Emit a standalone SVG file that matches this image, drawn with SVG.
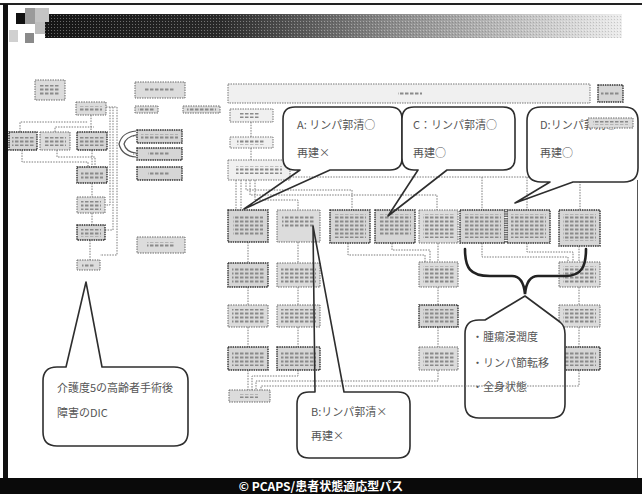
<svg xmlns="http://www.w3.org/2000/svg" width="642" height="494" viewBox="0 0 642 494">
<defs>
<linearGradient id="hdr" x1="0" y1="0" x2="1" y2="0">
<stop offset="0" stop-color="#151515"/>
<stop offset="0.3" stop-color="#2a2a2a"/>
<stop offset="0.6" stop-color="#8a8a8a"/>
<stop offset="0.85" stop-color="#c8c8c8"/>
<stop offset="1" stop-color="#ececec"/>
</linearGradient>
<pattern id="txt" width="5" height="4" patternUnits="userSpaceOnUse">
<rect x="0" y="0.5" width="3.5" height="2" fill="#8a8a8a"/>
</pattern>
<pattern id="dith" width="3" height="3" patternUnits="userSpaceOnUse">
<rect width="3" height="3" fill="none"/>
<rect x="0" y="0" width="1" height="1" fill="#ffffff" opacity="0.35"/>
<rect x="2" y="1" width="1" height="1" fill="#000000" opacity="0.15"/>
</pattern>
</defs>
<style>
.n{fill:#dcdcdc;stroke:#6a6a6a;stroke-width:1;stroke-dasharray:1.5 1}
.nb{fill:#d6d6d6;stroke:#333;stroke-width:1.4;stroke-dasharray:1.5 0.8}
.nl{fill:#f0f0f0;stroke:#777;stroke-width:1;stroke-dasharray:1.5 1}
.s{fill:url(#txt)}
.c{fill:none;stroke:#7a7a7a;stroke-width:1;stroke-dasharray:1.5 1.2}
.bf{fill:#fff;stroke:none}
.bo{fill:none;stroke:#2e2e2e;stroke-width:1.6;stroke-linejoin:round}
.t{font-family:"Noto Sans CJK JP","Noto Sans",sans-serif;font-size:11px;fill:#555}
.br{fill:none;stroke:#222;stroke-width:2.6;stroke-linecap:round}
</style>
<rect width="642" height="494" fill="#fff"/>
<!-- frame -->
<rect x="0" y="3" width="642" height="2" fill="#222"/>
<rect x="3" y="4" width="5" height="476" fill="#111"/>
<rect x="637" y="180" width="1" height="298" fill="#555"/>
<!-- header -->
<g id="header">
<rect x="45" y="14" width="577" height="24" fill="url(#hdr)"/>
<rect x="45" y="14" width="577" height="24" fill="url(#dith)"/>
<rect x="16" y="13" width="9" height="11" fill="#111"/>
<rect x="25" y="8" width="10" height="16" fill="#9a9a9a"/>
<rect x="35" y="8" width="14" height="14" fill="#c4c4c4"/>
<rect x="35" y="22" width="10" height="12" fill="#bdbdbd"/>
<rect x="9" y="30" width="9" height="12" fill="#d0d0d0"/>
<rect x="25" y="33" width="9" height="10" fill="#8a8a8a"/>
</g>
<!-- connectors -->
<g id="connectors">
<path class="c" d="M91,115 V132 M20,132 V122 H88 M55,132 V127 H94"/>
<path class="c" d="M22,150 V162 H88 V167 M57,150 V157 H95 V167 M92,150 V167"/>
<path class="c" d="M92,183 V197 M92,213 V225 M90,240 V260"/>
<path class="c" d="M106,107 H117 M110,107 V205 H105 M113,107 V230 H105 M117,107 V255 H100"/>
<path class="c" d="M251,122 V137 M251,148 V160"/>
<path class="c" d="M236,180 V210 M241,180 V210 M246,180 V190 H352 V210 M250,180 V195 H437 V210 M255,180 V200 H298 V210"/>
<path class="c" d="M290,177 H580 V210 M482,177 V210 M527,177 V210"/>
<path class="c" d="M248,242 V263 M248,287 V305 M248,327 V347"/>
<path class="c" d="M298,242 V263 M298,287 V305 M298,327 V347"/>
<path class="c" d="M348,243 V255 H425 V262 M392,243 V250 H430 V262 M438,243 V262 M438,287 V305 M438,327 V347"/>
<path class="c" d="M482,243 V257 H568 V262 M527,243 V252 H573 V262 M579,246 V262 M579,287 V305 M579,327 V347"/>
<path class="c" d="M248,370 V390 M298,370 V376 H252 V390 M438,370 V381 H256 V390 M579,370 V386 H261 V390"/>
<path class="c" d="M137,136 H133 M137,154 H133"/>
</g>
<!-- left tree -->
<g id="L0"><rect class="n" x="35" y="80" width="30" height="20" fill="#cfcfcf"/><rect class="s" x="40" y="85" width="20" height="10"/></g>
<g id="L1"><rect class="n" x="76" y="102" width="30" height="13"/><rect class="s" x="80" y="106" width="22" height="6"/></g>
<g id="L2"><rect class="nb" x="9" y="132" width="28" height="18"/><rect class="s" x="12" y="137" width="22" height="9"/></g>
<g id="L3"><rect class="n" x="40" y="132" width="30" height="18"/><rect class="s" x="44" y="137" width="22" height="9"/></g>
<g id="L4"><rect class="nb" x="77" y="132" width="30" height="18"/><rect class="s" x="80" y="137" width="24" height="9"/></g>
<g id="L5"><rect class="nb" x="77" y="167" width="30" height="16"/><rect class="s" x="81" y="171" width="22" height="9"/></g>
<g id="L6"><rect class="n" x="77" y="197" width="28" height="16"/><rect class="s" x="81" y="201" width="20" height="9"/></g>
<g id="L7"><rect class="nb" x="77" y="225" width="28" height="15"/><rect class="s" x="81" y="229" width="20" height="8"/></g>
<g id="L8"><rect class="n" x="77" y="260" width="23" height="10"/><rect class="s" x="82" y="263" width="13" height="4"/></g>
<!-- left-center column -->
<g id="M0"><rect class="n" x="135" y="82" width="50" height="16"/><rect class="s" x="145" y="87" width="30" height="5"/></g>
<g id="M1"><rect class="n" x="135" y="106" width="23" height="7"/><rect class="s" x="138" y="108" width="17" height="3"/></g>
<g id="M2"><rect class="n" x="183" y="106" width="37" height="7"/><rect class="s" x="187" y="108" width="29" height="3"/></g>
<g id="M3"><rect class="nb" x="137" y="130" width="45" height="13" stroke-width="2"/><rect class="s" x="141" y="134" width="37" height="5"/></g>
<g id="M4"><rect class="nb" x="137" y="148" width="45" height="12"/><rect class="s" x="148" y="152" width="22" height="4"/></g>
<g id="M5"><rect class="nb" x="137" y="167" width="45" height="13"/><rect class="s" x="148" y="171" width="22" height="5"/></g>
<g id="M6"><rect class="n" x="137" y="237" width="48" height="16" fill="#cdcdcd"/><rect class="s" x="147" y="242" width="28" height="6"/></g>
<g id="bracket"><path fill="none" stroke="#555" stroke-width="1.2" d="M136,131 Q122,132 119,144 Q122,156 136,157 M136,135 Q126,137 124,144 Q126,152 136,153"/></g>
<!-- top bar -->
<g id="T0"><rect class="nl" x="228" y="84" width="362" height="19"/><rect class="s" x="398" y="91" width="24" height="4"/></g>
<g id="T1"><rect class="nb" x="598" y="85" width="25" height="17" fill="#b8b8b8"/><rect class="s" x="601" y="91" width="19" height="4"/></g>
<!-- center column -->
<g id="A0"><rect class="nl" x="230" y="109" width="43" height="13"/><rect class="s" x="240" y="113" width="20" height="5"/></g>
<g id="A1"><rect class="nl" x="230" y="137" width="43" height="11"/><rect class="s" x="237" y="140" width="28" height="5"/></g>
<g id="A2"><rect class="nl" x="228" y="160" width="62" height="20"/><rect class="s" x="236" y="166" width="46" height="8"/></g>
<!-- row 1 -->
<g id="R1a"><rect class="nb" x="228" y="210" width="40" height="32"/><rect class="s" x="233" y="216" width="30" height="19"/></g>
<g id="R1b"><rect class="n" x="277" y="210" width="43" height="32"/><rect class="s" x="282" y="216" width="33" height="12"/></g>
<g id="R1c"><rect class="nb" x="330" y="210" width="40" height="33"/><rect class="s" x="334" y="214" width="32" height="24"/></g>
<g id="R1d"><rect class="nb" x="375" y="210" width="40" height="33"/><rect class="s" x="379" y="214" width="32" height="22"/></g>
<g id="R1e"><rect class="n" x="419" y="210" width="39" height="33"/><rect class="s" x="423" y="214" width="31" height="24"/></g>
<g id="R1f"><rect class="nb" x="460" y="210" width="45" height="33"/><rect class="s" x="464" y="214" width="37" height="24"/></g>
<g id="R1g"><rect class="nb" x="507" y="210" width="43" height="33"/><rect class="s" x="511" y="214" width="35" height="24"/></g>
<g id="R1h"><rect class="nb" x="559" y="210" width="41" height="36"/><rect class="s" x="563" y="214" width="33" height="27"/></g>
<!-- row 2 -->
<g id="R2a"><rect class="nb" x="228" y="263" width="40" height="24"/><rect class="s" x="232" y="267" width="32" height="16"/></g>
<g id="R2b"><rect class="n" x="277" y="263" width="43" height="24"/><rect class="s" x="281" y="267" width="35" height="16"/></g>
<g id="R2e"><rect class="n" x="419" y="262" width="39" height="25"/><rect class="s" x="423" y="266" width="31" height="17"/></g>
<g id="R2h"><rect class="n" x="559" y="262" width="41" height="25"/><rect class="s" x="563" y="266" width="33" height="17"/></g>
<!-- row 3 -->
<g id="R3a"><rect class="n" x="228" y="305" width="40" height="22"/><rect class="s" x="232" y="309" width="32" height="14"/></g>
<g id="R3b"><rect class="n" x="277" y="305" width="43" height="22"/><rect class="s" x="281" y="309" width="35" height="14"/></g>
<g id="R3e"><rect class="nb" x="419" y="305" width="39" height="22"/><rect class="s" x="423" y="309" width="31" height="14"/></g>
<g id="R3h"><rect class="n" x="559" y="305" width="41" height="22"/><rect class="s" x="563" y="309" width="33" height="14"/></g>
<!-- row 4 -->
<g id="R4a"><rect class="nb" x="228" y="347" width="40" height="23"/><rect class="s" x="232" y="351" width="32" height="15"/></g>
<g id="R4b"><rect class="nb" x="277" y="347" width="43" height="23" stroke-width="2"/><rect class="s" x="281" y="351" width="35" height="15"/></g>
<g id="R4e"><rect class="n" x="419" y="347" width="39" height="23"/><rect class="s" x="423" y="351" width="31" height="15"/></g>
<g id="R4h"><rect class="nb" x="559" y="347" width="41" height="23"/><rect class="s" x="563" y="351" width="33" height="15"/></g>
<g id="END"><rect class="n" x="229" y="390" width="41" height="12"/><rect class="s" x="240" y="394" width="18" height="4"/></g>
<!-- brace -->
<g id="brace"><path class="br" d="M465,249 C465,268 470,276 490,276 L512,276 C520,276 524,284 525,294 C526,284 530,276 538,276 L565,276 C582,276 586,266 586,249"/></g>
<!-- callouts -->
<g id="calloutA">
<rect class="bf" x="283" y="107" width="119" height="63" rx="12"/>
<path class="bo" d="M295,107 H390 Q402,107 402,119 V158 Q402,170 390,170 H330 L244,209 L300,170 H295 Q283,170 283,158 V119 Q283,107 295,107 Z"/>
<text class="t" x="297" y="129">A: リンパ郭清○</text>
<text class="t" x="297" y="157">再建×</text>
</g>
<g id="calloutC">
<rect class="bf" x="402" y="107" width="113" height="63" rx="12"/>
<path class="bo" d="M414,107 H503 Q515,107 515,119 V158 Q515,170 503,170 H447 L388,216 L418,170 H414 Q402,170 402,158 V119 Q402,107 414,107 Z"/>
<text class="t" x="413" y="129">C：リンパ郭清○</text>
<text class="t" x="413" y="157">再建○</text>
</g>
<g id="calloutD">
<rect class="bf" x="527" y="107" width="111" height="75" rx="14"/>
<path class="bo" d="M541,107 H624 Q638,107 638,121 V168 Q638,182 624,182 H573 L515,203 L550,182 H541 Q527,182 527,168 V121 Q527,107 541,107 Z"/>
<text class="t" x="540" y="129">D:リンパ郭清○</text>
<text class="t" x="540" y="157">再建○</text>
<rect class="n" x="588" y="118" width="45" height="10" fill="#cfcfcf"/><rect class="s" x="593" y="121" width="35" height="4"/>
</g>
<g id="calloutB">
<rect class="bf" x="297" y="392" width="113" height="66" rx="12"/>
<path class="bo" d="M309,392 H315 L313,226 L344,392 H398 Q410,392 410,404 V446 Q410,458 398,458 H309 Q297,458 297,446 V404 Q297,392 309,392 Z"/>
<text class="t" x="311" y="416">B:リンパ郭清×</text>
<text class="t" x="311" y="440">再建×</text>
</g>
<g id="calloutE">
<rect class="bf" x="465" y="320" width="100" height="98" rx="14"/>
<path class="bo" d="M479,320 H485 L525,296 L560,322 Q565,326 565,334 V404 Q565,418 551,418 H479 Q465,418 465,404 V334 Q465,320 479,320 Z"/>
<text class="t" x="472" y="341">・腫瘍浸潤度</text>
<text class="t" x="472" y="367">・リンパ節転移</text>
<text class="t" x="472" y="391">・全身状態</text>
<path class="c" d="M465,386 H565"/>
</g>
<g id="calloutL">
<rect class="bf" x="43" y="367" width="145" height="79" rx="14"/>
<path class="bo" d="M57,367 H66 L86,282 L102,367 H174 Q188,367 188,381 V432 Q188,446 174,446 H57 Q43,446 43,432 V381 Q43,367 57,367 Z"/>
<text class="t" x="57" y="392" font-size="10">介護度5の高齢者手術後</text>
<text class="t" x="57" y="417" font-size="10">障害のDIC</text>
</g>
<!-- footer -->
<g id="footer">
<rect x="0" y="478" width="642" height="16" fill="#0a0a0a"/>
<text x="321" y="491" text-anchor="middle" font-family="'Noto Sans CJK JP','Noto Sans',sans-serif" font-size="12" font-weight="bold" fill="#fff">© PCAPS/患者状態適応型パス</text>
</g>
</svg>
